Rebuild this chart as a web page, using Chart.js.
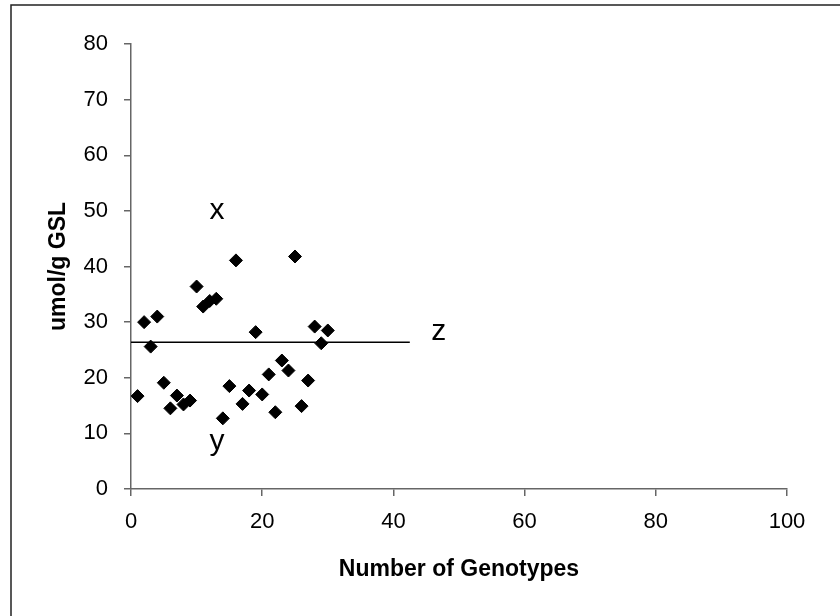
<!DOCTYPE html>
<html>
<head>
<meta charset="utf-8">
<script src="https://cdn.jsdelivr.net/npm/chart.js@4/dist/chart.umd.min.js"></script>
<style>
    html, body { margin: 0; padding: 0; background: #fff; }
    #wrap { position: relative; width: 840px; height: 616px; }
</style>
</head>
<body>
<div id="wrap"><canvas id="chartGsl" width="840" height="616"></canvas></div>
<script>
// glucosinolate content per genotype
const genotypes = [1, 2, 3, 4, 5, 6, 7, 8, 9, 10, 11, 12, 13, 14, 15,
    16, 17, 18, 19, 20, 21, 22, 23, 24, 25, 26, 27, 28, 29, 30];
const gslValues = [16.7, 30.0, 25.6, 31.0, 19.1, 14.5, 16.8, 15.2, 15.9, 36.4,
    32.8, 33.8, 34.2, 12.7, 18.5, 41.1, 15.3, 17.7, 28.2, 17.0,
    20.6, 13.8, 23.1, 21.3, 41.8, 14.9, 19.5, 29.2, 26.2, 28.5];

// reference level drawn as a horizontal line
const refLevel = 26.4;
const refSpan = [0, 42.5];

// letter notes placed in data units
const noteText = ['x', 'y', 'z'];
const noteX = [13.1, 13.1, 46.9];
const noteY = [48.6, 7.0, 26.8];

const FONT = '"Liberation Sans", Arial, sans-serif';
const axisGray = '#666666';

const frame = {
    id: 'frame',
    beforeDraw(chart) {
        const ctx = chart.ctx;
        ctx.save();
        ctx.strokeStyle = '#222';
        ctx.lineWidth = 1.5;
        ctx.strokeRect(11, 5, 900, 700);
        ctx.restore();
    },
};

const notes = {
    id: 'notes',
    afterDatasetsDraw(chart) {
        const { ctx, scales } = chart;
        ctx.save();
        ctx.fillStyle = '#000';
        ctx.font = '30px ' + FONT;
        ctx.textAlign = 'center';
        ctx.textBaseline = 'alphabetic';
        noteText.forEach((txt, i) => {
            ctx.fillText(txt, scales.x.getPixelForValue(noteX[i]), scales.y.getPixelForValue(noteY[i]));
        });
        ctx.restore();
    },
};

new Chart(document.getElementById('chartGsl').getContext('2d'), {
    type: 'scatter',
    data: {
        datasets: [
            {
                data: genotypes.map((g, i) => ({ x: g, y: gslValues[i] })),
                pointStyle: 'rectRot',
                pointRadius: 6.5,
                pointHoverRadius: 6.5,
                backgroundColor: '#000',
                borderColor: '#000',
                borderWidth: 1,
            },
            {
                type: 'line',
                data: refSpan.map(x => ({ x: x, y: refLevel })),
                borderColor: '#000',
                borderWidth: 1.5,
                pointRadius: 0,
                fill: false,
            },
        ],
    },
    options: {
        responsive: false,
        animation: false,
        layout: { padding: { top: 44, right: 53, bottom: 0, left: 0 } },
        plugins: {
            legend: { display: false },
            tooltip: { enabled: false },
        },
        scales: {
            x: {
                type: 'linear',
                min: 0,
                max: 100,
                afterFit: s => { s.height = 127; },
                border: { display: true, color: axisGray, width: 1.5 },
                grid: { drawOnChartArea: false, drawTicks: true, tickLength: 7, color: axisGray, lineWidth: 1.5 },
                ticks: { stepSize: 20, padding: 13, color: '#000', font: { family: FONT, size: 22 }, maxRotation: 0 },
                title: {
                    display: true,
                    text: 'Number of Genotypes',
                    color: '#000',
                    font: { family: FONT, size: 23, weight: 'bold' },
                    padding: { top: 0, bottom: 33 },
                },
            },
            y: {
                min: 0,
                max: 80,
                afterFit: s => { s.width = 131; },
                border: { display: true, color: axisGray, width: 1.5 },
                grid: { drawOnChartArea: false, drawTicks: true, tickLength: 7, color: axisGray, lineWidth: 1.5 },
                ticks: { stepSize: 10, padding: 16, color: '#000', font: { family: FONT, size: 22 } },
                title: {
                    display: true,
                    text: 'umol/g GSL',
                    color: '#000',
                    font: { family: FONT, size: 23, weight: 'bold' },
                    padding: { top: 45, bottom: 0 },
                },
            },
        },
    },
    plugins: [frame, notes],
});
</script>
</body>
</html>
